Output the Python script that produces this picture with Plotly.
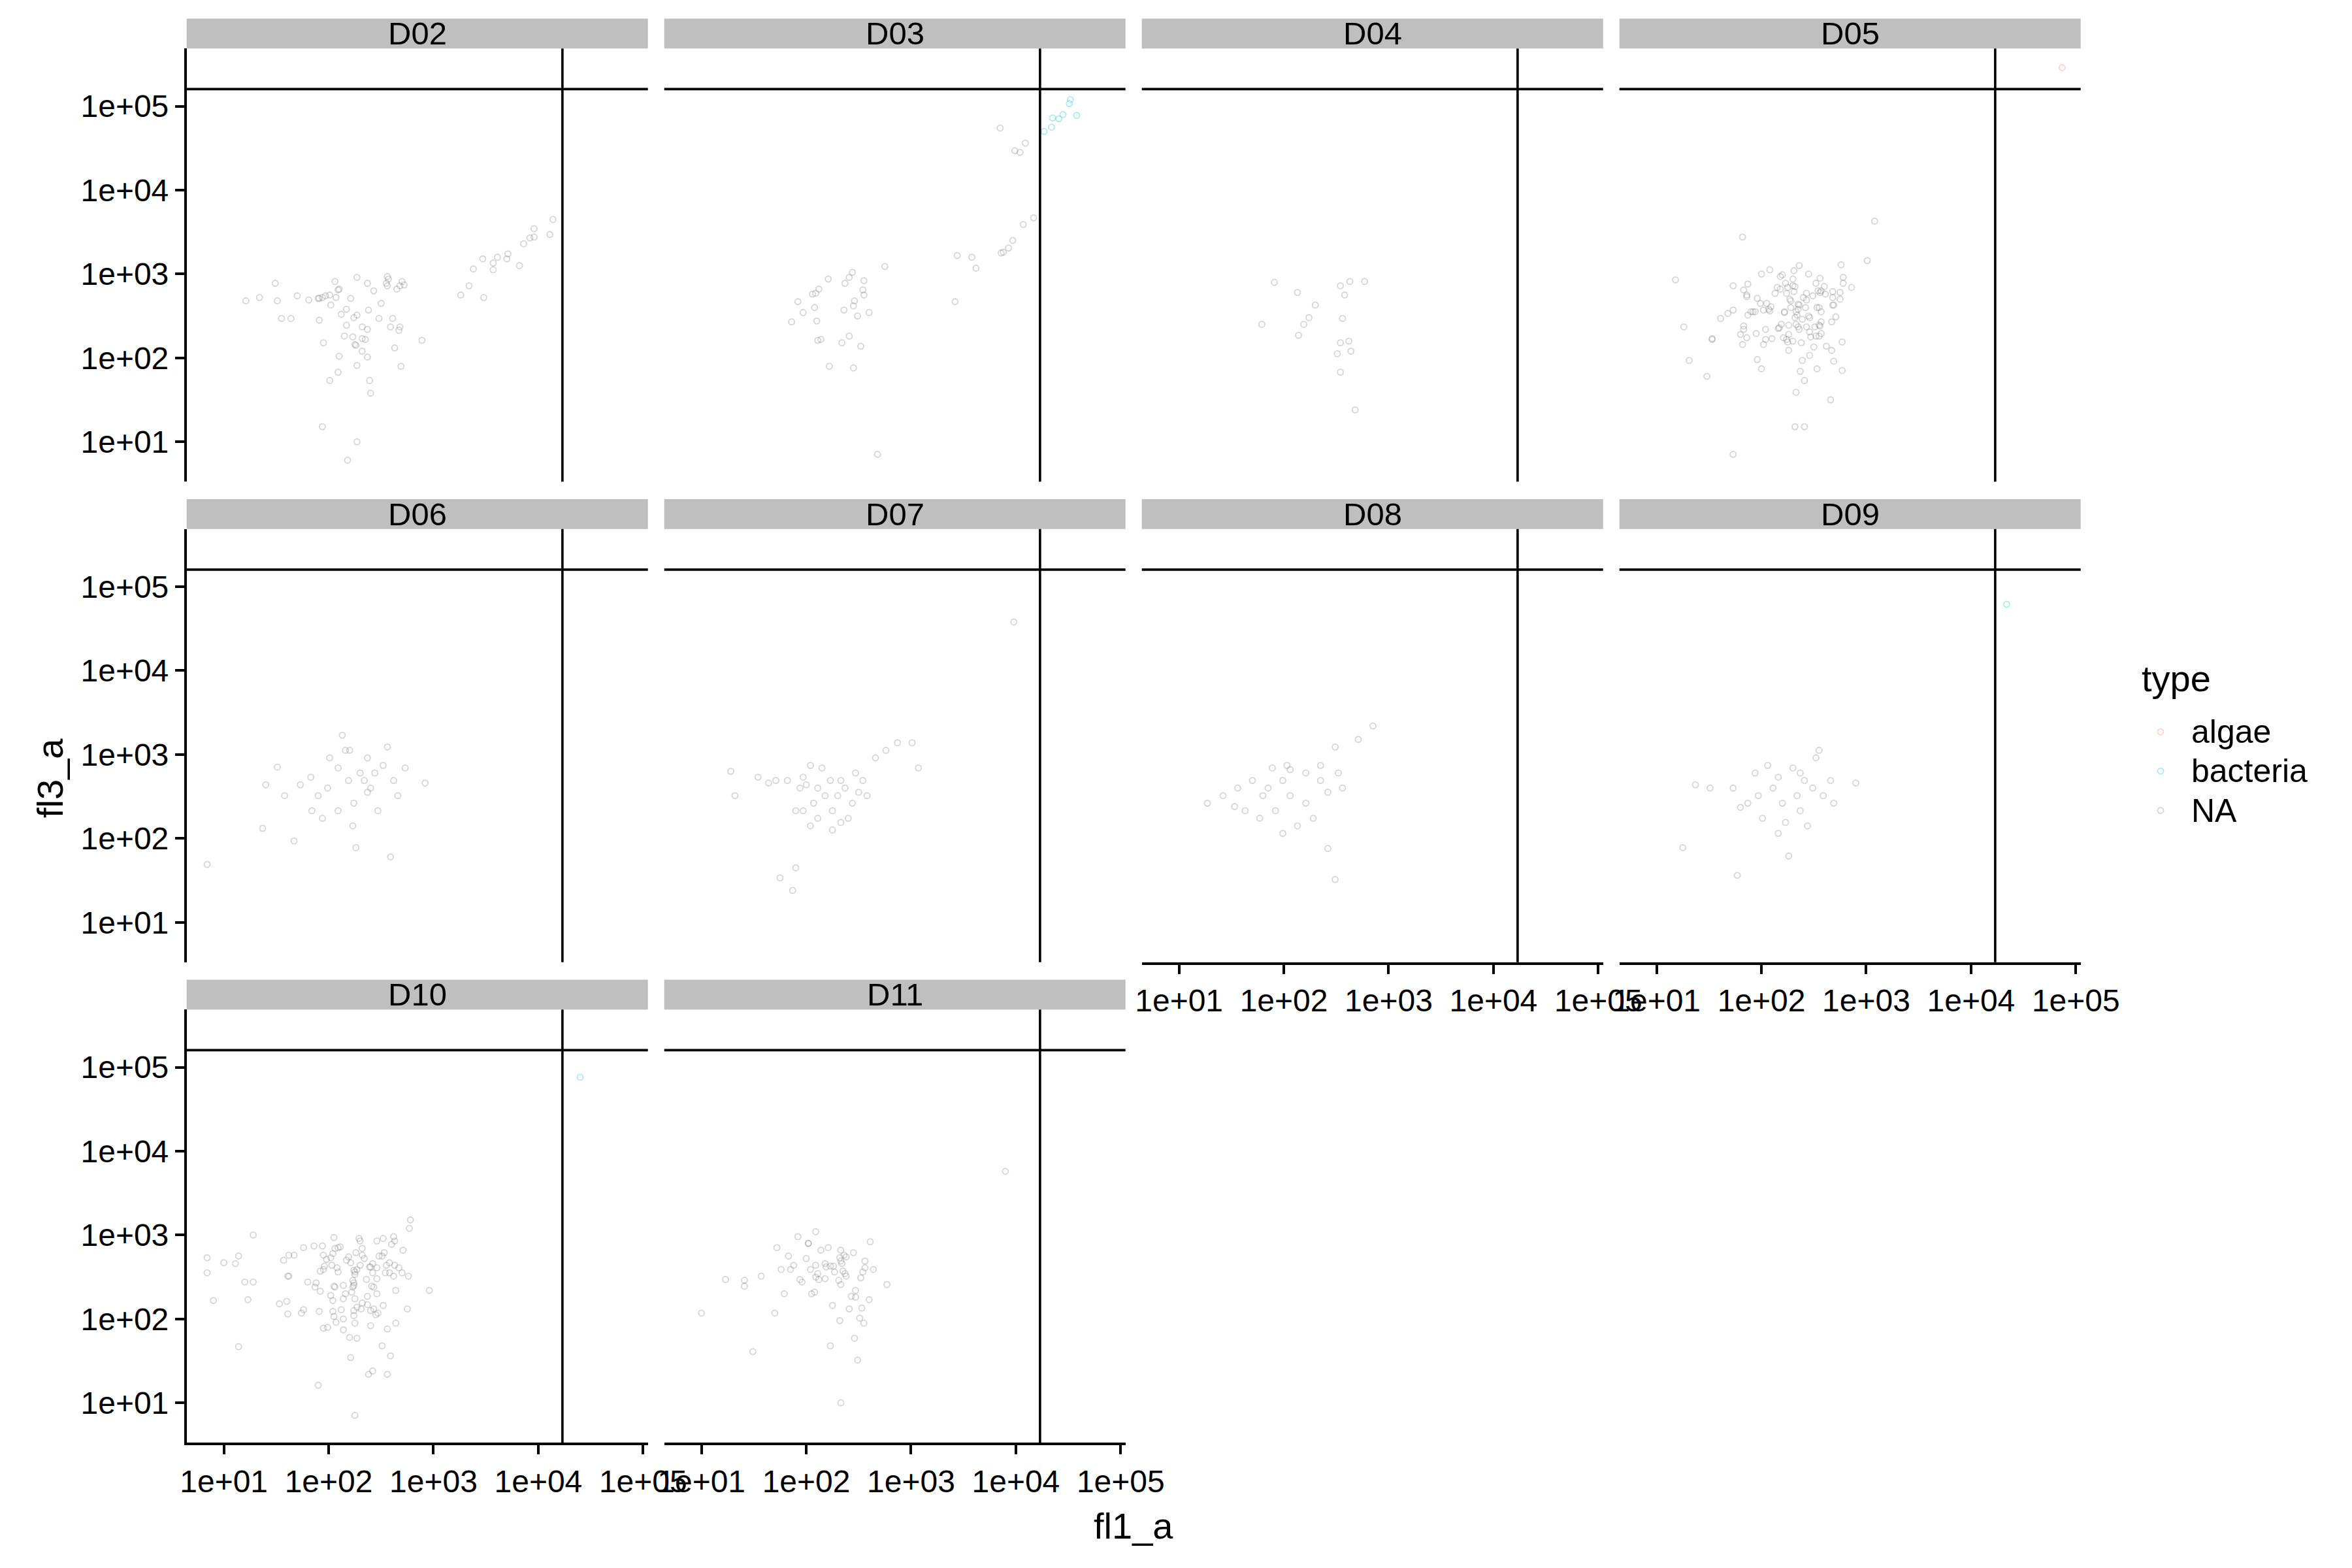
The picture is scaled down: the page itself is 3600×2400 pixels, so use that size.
import plotly.graph_objects as go

# ---------------- data (log10 of fl1_a, log10 of fl3_a) ----------------
PANELS = ["D02", "D03", "D04", "D05", "D06", "D07", "D08", "D09", "D10", "D11"]
TYPES = ["algae", "bacteria", "NA"]
TICK_VALUES = [1e1, 1e2, 1e3, 1e4, 1e5]
TICK_TEXT = ["1e+01", "1e+02", "1e+03", "1e+04", "1e+05"]
FL1_GATE = 1.7e4
FL3_GATE = 1.6e5

D02_NA = [(4.14,3.65),(3.96,3.54),(3.92,3.43),(3.96,3.44),(4.11,3.47),(3.86,3.36),(3.71,3.24),(3.70,3.18),
          (3.61,3.20),(3.57,3.13),(3.57,3.05),(3.47,3.18),(3.38,3.06),(3.82,3.10),(3.34,2.86),(3.26,2.75),(3.48,2.72),
          (1.49,2.89),(1.21,2.68),(1.34,2.72),(1.51,2.68),(1.70,2.74),(1.81,2.69),(1.90,2.71),(1.91,2.71),(1.94,2.72),
          (1.97,2.74),(2.01,2.75),(2.06,2.91),(2.07,2.72),(2.09,2.81),(2.10,2.82),(2.27,2.96),(2.37,2.89),(2.43,2.80),
          (2.56,2.97),(2.57,2.94),(2.55,2.89),(2.56,2.86),(2.65,2.82),(2.70,2.91),(2.68,2.86),(2.72,2.87),(2.21,2.71),
          (2.02,2.63),(2.50,2.65),(2.17,2.58),(2.12,2.52),(2.27,2.51),(2.24,2.48),(2.38,2.57),(1.55,2.47),(1.64,2.47),
          (1.91,2.45),(2.48,2.47),(2.61,2.47),(2.17,2.39),(2.32,2.37),(2.37,2.34),(2.59,2.37),(2.68,2.37),(2.67,2.33),
          (2.15,2.26),(2.23,2.25),(2.32,2.23),(2.35,2.22),(2.25,2.16),(2.26,2.15),(1.95,2.18),(2.63,2.12),(2.89,2.21),
          (2.32,2.08),(2.37,2.01),(2.10,2.02),(2.27,1.91),(2.69,1.90),(2.09,1.83),(2.01,1.73),(2.39,1.73),(2.40,1.58),
          (1.94,1.18),(2.27,1.00),(2.18,0.78)]

D03_NA = [(3.85,4.74),(4.09,4.56),(3.99,4.47),(4.04,4.45),(4.17,3.67),(4.07,3.59),(3.97,3.40),(3.93,3.31),
          (3.86,3.25),(3.88,3.26),(3.44,3.22),(3.58,3.20),(3.62,3.07),(3.42,2.67),(2.75,3.09),(2.21,2.94),(2.44,3.02),
          (2.41,2.96),(2.37,2.89),(2.55,2.92),(2.12,2.82),(2.09,2.77),(2.06,2.76),(2.54,2.81),(2.55,2.75),(1.92,2.67),
          (2.08,2.60),(1.97,2.54),(2.46,2.68),(2.45,2.62),(2.36,2.57),(2.60,2.54),(2.49,2.50),(1.86,2.43),(2.10,2.44),
          (2.11,2.21),(2.14,2.22),(2.41,2.26),(2.34,2.18),(2.52,2.14),(2.22,1.90),(2.45,1.88),(2.68,0.85)]
D03_BACTERIA = [(4.52,5.08),(4.51,5.03),(4.35,4.86),(4.41,4.85),(4.45,4.90),(4.58,4.89),(4.34,4.75),(4.27,4.70)]

D04_NA = [(1.91,2.90),(2.13,2.78),(2.30,2.63),(2.24,2.48),(2.19,2.40),(1.79,2.40),(2.14,2.27),(2.54,2.86),
          (2.63,2.91),(2.77,2.91),(2.58,2.75),(2.56,2.47),(2.54,2.18),(2.62,2.20),(2.51,2.05),(2.64,2.08),(2.54,1.83),
          (2.68,1.38)]

D05_NA = [(3.08,3.63),(1.82,3.44),(1.18,2.93),(3.01,3.16),(2.76,3.11),(2.36,3.10),(2.08,3.05),(2.31,3.04),
          (2.00,3.00),(2.45,3.00),(2.20,2.99),(2.18,2.97),(2.56,2.95),(2.78,2.96),(2.30,2.94),(1.73,2.86),(1.87,2.88),
          (1.83,2.81),(2.23,2.89),(2.30,2.86),(2.15,2.84),(2.18,2.82),(2.25,2.84),(2.32,2.85),(2.52,2.89),(2.60,2.85),
          (2.78,2.89),(2.86,2.84),(2.13,2.77),(2.24,2.77),(2.31,2.79),(2.43,2.77),(2.54,2.80),(2.56,2.78),(2.57,2.80),
          (2.61,2.76),(2.68,2.79),(2.75,2.78),(1.86,2.75),(1.86,2.73),(1.96,2.71),(2.27,2.70),(2.28,2.68),(2.40,2.72),
          (2.49,2.74),(2.43,2.69),(2.68,2.72),(2.75,2.70),(2.05,2.65),(1.99,2.65),(2.35,2.64),(2.36,2.63),(2.68,2.63),
          (2.69,2.63),(2.09,2.61),(2.07,2.58),(2.08,2.56),(2.02,2.57),(2.28,2.60),(2.35,2.58),(2.42,2.60),(2.53,2.60),
          (2.55,2.60),(2.33,2.55),(2.22,2.55),(2.22,2.54),(1.92,2.55),(1.94,2.55),(1.90,2.55),(1.87,2.51),(1.73,2.57),
          (1.68,2.53),(1.61,2.47),(2.34,2.51),(2.32,2.48),(2.45,2.50),(2.46,2.48),(2.39,2.46),(2.57,2.55),(2.71,2.49),
          (2.57,2.43),(2.67,2.43),(2.19,2.40),(2.26,2.39),(2.17,2.36),(2.16,2.35),(2.33,2.40),(2.35,2.37),(2.36,2.34),
          (2.43,2.37),(2.51,2.37),(2.55,2.39),(2.56,2.38),(1.83,2.38),(1.83,2.34),(1.26,2.37),(2.04,2.34),(2.46,2.31),
          (1.80,2.28),(1.86,2.24),(1.95,2.29),(1.53,2.23),(1.53,2.22),(2.10,2.23),(2.04,2.22),(2.21,2.24),(2.24,2.22),
          (2.26,2.28),(2.30,2.20),(2.38,2.18),(2.47,2.25),(2.52,2.26),(2.55,2.26),(2.57,2.29),(1.82,2.16),(2.02,2.16),
          (2.25,2.19),(2.26,2.09),(2.50,2.13),(2.62,2.14),(2.67,2.09),(2.77,2.19),(2.46,2.03),(1.96,1.98),(2.39,1.97),
          (2.69,1.96),(1.31,1.97),(2.00,1.87),(2.37,1.84),(2.53,1.87),(2.77,1.85),(1.48,1.78),(2.41,1.73),(2.33,1.59),
          (2.66,1.50),(2.32,1.18),(2.41,1.18),(1.73,0.85)]
D05_ALGAE = [(4.87,5.46)]

D06_NA = [(0.84,1.69),(1.37,2.12),(1.40,2.64),(1.51,2.85),(1.67,1.97),(1.73,2.64),(1.83,2.73),(1.90,2.51),
          (1.94,2.24),(2.01,2.96),(2.09,2.84),(2.13,3.23),(2.20,3.05),(2.24,2.42),(2.26,1.89),(2.30,2.78),(2.34,2.69),
          (2.37,2.55),(2.40,2.60),(2.44,2.78),(2.47,2.33),(2.52,2.87),(2.56,3.09),(2.59,1.78),(2.62,2.69),(2.66,2.51),
          (2.73,2.84),(2.92,2.66),(2.16,3.05),(1.99,2.60),(1.84,2.33),(2.09,2.33),(2.23,2.15),(2.37,2.96),(1.58,2.51),
          (2.19,2.69)]

D07_NA = [(1.28,2.80),(1.32,2.51),(1.54,2.73),(1.64,2.66),(1.71,2.69),(1.75,1.53),(1.82,2.69),(1.87,1.38),
          (1.90,2.33),(1.94,2.60),(1.97,2.73),(2.00,2.64),(2.04,2.87),(2.07,2.42),(2.11,2.24),(2.15,2.84),(2.18,2.51),
          (2.23,2.69),(2.25,2.33),(2.30,2.51),(2.33,2.19),(2.37,2.60),(2.40,2.24),(2.44,2.42),(2.47,2.78),(2.50,2.55),
          (2.54,2.69),(2.58,2.51),(2.66,2.96),(2.76,3.05),(2.87,3.14),(3.01,3.14),(3.07,2.84),(2.04,2.15),(1.90,1.65),
          (2.25,2.10),(2.33,2.69),(2.11,2.60),(1.97,2.33),(3.98,4.58)]

D08_NA = [(2.85,3.34),(2.71,3.18),(2.49,3.09),(2.35,2.87),(2.21,2.78),(2.06,2.82),(1.99,2.69),(1.85,2.60),
          (1.70,2.69),(1.56,2.60),(1.42,2.51),(1.27,2.42),(2.06,2.51),(2.21,2.42),(2.35,2.69),(2.42,2.55),(1.92,2.33),
          (1.77,2.24),(1.63,2.33),(2.28,2.24),(2.13,2.15),(1.99,2.06),(2.42,1.88),(2.03,2.87),(1.89,2.84),(2.52,2.78),
          (2.56,2.60),(1.53,2.38),(2.49,1.51),(1.80,2.51)]

D09_NA = [(1.25,1.89),(1.37,2.64),(1.51,2.60),(1.73,2.60),(1.77,1.56),(1.87,2.42),(1.94,2.78),(1.97,2.51),
          (2.06,2.87),(2.11,2.60),(2.16,2.73),(2.20,2.42),(2.23,2.19),(2.26,1.79),(2.30,2.84),(2.34,2.51),(2.37,2.33),
          (2.41,2.69),(2.44,2.15),(2.49,2.60),(2.52,2.96),(2.55,3.05),(2.59,2.51),(2.66,2.69),(2.69,2.42),(2.90,2.66),
          (2.01,2.24),(2.16,2.06),(1.80,2.37),(2.37,2.78)]
D09_BACTERIA = [(4.34,4.79)]

D10_NA = [(1.28,3.00),(0.84,2.73),(0.84,2.55),(1.00,2.67),(1.11,2.66),(1.14,2.75),(0.90,2.22),(1.20,2.44),
          (1.28,2.44),(1.23,2.23),(1.14,1.67),(1.57,2.70),(1.62,2.76),(1.67,2.76),(1.61,2.51),(1.62,2.51),(1.53,2.18),
          (1.60,2.21),(1.61,2.06),(1.74,2.07),(1.76,2.11),(1.76,2.85),(1.86,2.87),(1.94,2.87),(1.80,2.44),(1.87,2.38),
          (1.88,2.43),(1.92,2.33),(1.91,2.09),(1.95,1.89),(1.99,1.90),(1.90,1.21),(2.05,2.97),(1.95,2.76),(1.98,2.71),
          (2.02,2.73),(2.04,2.78),(2.06,2.84),(2.09,2.85),(2.11,2.86),(2.03,2.64),(2.08,2.61),(1.92,2.57),(1.95,2.59),
          (1.96,2.63),(2.06,2.38),(2.05,2.39),(2.09,2.56),(2.02,2.28),(2.04,2.22),(2.04,2.09),(2.05,2.03),(2.07,1.96),
          (2.12,2.11),(2.14,2.00),(2.14,1.87),(2.14,2.24),(2.16,2.30),(2.14,2.40),(2.17,2.70),(2.19,2.74),(2.21,2.67),
          (2.24,2.58),(2.25,2.56),(2.25,2.53),(2.23,2.46),(2.24,2.43),(2.24,2.40),(2.23,2.38),(2.22,2.32),(2.25,2.24),
          (2.24,2.10),(2.24,2.04),(2.25,1.95),(2.27,2.14),(2.31,2.12),(2.32,2.19),(2.37,2.17),(2.37,2.27),(2.20,1.78),
          (2.27,1.77),(2.21,1.54),(2.25,0.85),(2.26,2.79),(2.29,2.96),(2.30,2.93),(2.32,2.84),(2.32,2.76),(2.34,2.72),
          (2.30,2.64),(2.27,2.59),(2.36,2.47),(2.39,2.62),(2.40,2.62),(2.42,2.66),(2.42,2.55),(2.46,2.61),(2.46,2.48),
          (2.43,2.38),(2.41,2.39),(2.46,2.30),(2.40,2.10),(2.43,2.12),(2.47,2.07),(2.45,2.05),(2.40,1.92),(2.52,2.16),
          (2.51,1.68),(2.59,1.56),(2.56,1.34),(2.38,1.34),(2.42,1.38),(2.56,1.88),(2.64,1.95),(2.46,2.93),(2.52,2.96),
          (2.53,2.79),(2.48,2.75),(2.51,2.75),(2.55,2.64),(2.54,2.55),(2.58,2.55),(2.62,2.51),(2.62,2.98),(2.60,2.89),
          (2.63,2.93),(2.71,2.82),(2.58,2.67),(2.63,2.64),(2.67,2.61),(2.70,2.55),(2.76,2.51),(2.78,3.18),(2.77,3.08),
          (2.64,2.34),(2.75,2.12),(2.96,2.34)]
D10_BACTERIA = [(4.40,4.88)]

D11_NA = [(3.90,3.76),(2.09,3.04),(1.92,2.98),(2.02,2.90),(2.02,2.90),(2.61,2.92),(1.72,2.85),(2.21,2.85),
          (2.14,2.82),(2.33,2.82),(2.45,2.79),(1.83,2.75),(2.00,2.72),(2.36,2.76),(2.38,2.74),(2.32,2.73),(2.33,2.69),
          (2.34,2.66),(2.56,2.69),(2.18,2.66),(2.19,2.62),(2.23,2.63),(2.26,2.63),(1.88,2.64),(2.09,2.64),(1.76,2.59),
          (1.85,2.59),(2.04,2.59),(2.11,2.54),(2.27,2.56),(2.35,2.57),(2.37,2.54),(2.38,2.51),(2.54,2.56),(2.56,2.61),
          (2.64,2.59),(2.52,2.49),(1.23,2.47),(1.41,2.46),(1.41,2.39),(1.57,2.51),(1.94,2.47),(1.96,2.44),(2.09,2.50),
          (2.12,2.47),(2.18,2.48),(2.31,2.46),(2.33,2.41),(2.77,2.41),(1.79,2.30),(2.05,2.30),(2.08,2.32),(2.47,2.34),
          (2.43,2.27),(2.47,2.26),(2.60,2.23),(2.25,2.16),(2.41,2.12),(2.53,2.13),(1.00,2.07),(1.70,2.07),(2.32,1.98),
          (2.51,2.01),(2.55,1.95),(2.46,1.77),(2.23,1.68),(1.49,1.61),(2.49,1.51),(2.33,1.00)]

PANEL_DATA = {
    "D02": {"NA": D02_NA},
    "D03": {"NA": D03_NA, "bacteria": D03_BACTERIA},
    "D04": {"NA": D04_NA},
    "D05": {"NA": D05_NA, "algae": D05_ALGAE},
    "D06": {"NA": D06_NA},
    "D07": {"NA": D07_NA},
    "D08": {"NA": D08_NA},
    "D09": {"NA": D09_NA, "bacteria": D09_BACTERIA},
    "D10": {"NA": D10_NA, "bacteria": D10_BACTERIA},
    "D11": {"NA": D11_NA},
}

# ---------------- styling / layout ----------------
W, H = 3600, 2400
FONT = "Liberation Sans, Arial, Helvetica, sans-serif"
TYPE_COLORS = {"algae": "rgba(248,118,109,0.33)", "bacteria": "rgba(0,191,196,0.33)",
               "NA": "rgba(127,127,127,0.33)"}
TYPE_RANK = {"algae": 1, "bacteria": 2, "NA": 3}

COL_LEFT = [285.7 + 731.0 * c for c in range(4)]
PANEL_W = 706.0
ROW_TOP = [28.5 + 735.5 * r for r in range(3)]
STRIP_H = 45.7
PANEL_H = 663.0
X_RANGE = [0.645, 5.046]
Y_RANGE = [0.525, 5.688]
SHOW_X = {"D08", "D09", "D10", "D11"}
SHOW_Y = {"D02", "D06", "D10"}
LW = 3.6

fig = go.Figure()
shapes, annotations = [], []
legend_done = set()

for k, name in enumerate(PANELS):
    r, c = divmod(k, 4)
    ax = k + 1
    xs = "" if ax == 1 else str(ax)
    left, right = COL_LEFT[c], COL_LEFT[c] + PANEL_W
    strip_top = ROW_TOP[r]
    ptop = strip_top + STRIP_H
    pbot = ptop + PANEL_H

    sx, sy = name in SHOW_X, name in SHOW_Y
    common = dict(type="log", showgrid=False, zeroline=False, tickvals=TICK_VALUES, ticktext=TICK_TEXT,
                  linecolor="black", linewidth=LW, tickcolor="black", tickwidth=LW, ticklen=14,
                  tickfont=dict(size=48, color="black", family=FONT), automargin=False, fixedrange=True)
    fig.layout["xaxis" + xs] = dict(common, range=X_RANGE, domain=[left / W, right / W], anchor="y" + xs,
                                    showline=sx, ticks="outside" if sx else "", showticklabels=sx)
    fig.layout["yaxis" + xs] = dict(common, range=Y_RANGE, domain=[1 - pbot / H, 1 - ptop / H], anchor="x" + xs,
                                    showline=sy, ticks="outside" if sy else "", showticklabels=sy)

    for t in TYPES:
        pts = PANEL_DATA[name].get(t)
        if not pts:
            continue
        fig.add_trace(go.Scatter(
            x=[10 ** p[0] for p in pts], y=[10 ** p[1] for p in pts],
            xaxis="x" + xs, yaxis="y" + xs, mode="markers",
            name=f'<span style="font-size:50px">{t}</span>', legendgroup=t,
            legendrank=TYPE_RANK[t], showlegend=t not in legend_done,
            marker=dict(symbol="circle-open", size=9, color=TYPE_COLORS[t], line=dict(width=1.8)),
            hoverinfo="skip"))
        legend_done.add(t)

    # gate lines (data coordinates on the log axes)
    shapes.append(dict(type="line", xref=f"x{xs} domain", x0=0, x1=1, yref=f"y{xs}",
                       y0=FL3_GATE, y1=FL3_GATE, line=dict(color="black", width=LW), layer="above"))
    shapes.append(dict(type="line", xref=f"x{xs}", x0=FL1_GATE, x1=FL1_GATE, yref=f"y{xs} domain",
                       y0=0, y1=1, line=dict(color="black", width=LW), layer="above"))
    # strip
    shapes.append(dict(type="rect", xref="paper", yref="paper", x0=left / W, x1=right / W,
                       y0=1 - ptop / H, y1=1 - strip_top / H, fillcolor="#bfbfbf", line=dict(width=0),
                       layer="below"))
    annotations.append(dict(text=name, xref="paper", yref="paper", x=(left + right) / 2 / W,
                            y=1 - (strip_top + STRIP_H / 2) / H, showarrow=False, xanchor="center",
                            yanchor="middle", font=dict(size=49, color="black", family=FONT)))

annotations.append(dict(text="fl1_a", xref="paper", yref="paper", x=1735 / W, y=1 - 2335 / H, showarrow=False,
                        xanchor="center", yanchor="middle", font=dict(size=56, color="black", family=FONT)))
annotations.append(dict(text="fl3_a", xref="paper", yref="paper", x=76 / W, y=1 - 1191 / H, showarrow=False,
                        textangle=-90, xanchor="center", yanchor="middle",
                        font=dict(size=56, color="black", family=FONT)))
annotations.append(dict(text="type", xref="paper", yref="paper", x=3276 / W, y=1 - 1038 / H, showarrow=False,
                        xanchor="left", yanchor="middle", font=dict(size=56, color="black", family=FONT)))

fig.update_layout(
    width=W, height=H, margin=dict(l=0, r=0, t=0, b=0), paper_bgcolor="white", plot_bgcolor="white",
    font=dict(family=FONT, color="black"), shapes=shapes, annotations=annotations,
    legend=dict(x=3260 / W, xanchor="left", y=1 - 1085 / H, yanchor="top",
                font=dict(size=44, family=FONT), itemwidth=84, tracegroupgap=0, bgcolor="rgba(0,0,0,0)"),
)

fig.write_html("out.html", config={"displayModeBar": False},
               post_script="document.body.style.margin='0';")
